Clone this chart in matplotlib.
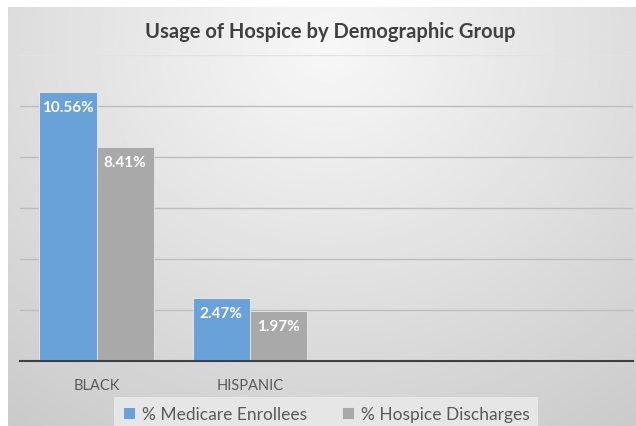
import matplotlib.pyplot as plt
import numpy as np

plt.rcParams["font.family"] = ["Lato", "DejaVu Sans"]

# data
categories = ["BLACK", "HISPANIC", "", ""]
medicare_enrollees = [10.56, 2.47, None, None]
hospice_discharges = [8.41, 1.97, None, None]
series_names = ["% Medicare Enrollees", "% Hospice Discharges"]

blue = "#69a2d8"
gray = "#a9a9a9"

fig = plt.figure(figsize=(6.36, 4.27), dpi=100)
fig.patch.set_facecolor("white")

# radial gradient background for the chart area
bg = fig.add_axes([8 / 636, 0, 1 - 8 / 636, 1 - 8 / 427])
gx, gy = np.meshgrid(np.linspace(0, 628, 300), np.linspace(0, 419, 200))
dist = np.sqrt(((gx - 320) / 1.15) ** 2 + (gy - 40) ** 2) / 420
shade = np.clip(0.97 - 0.16 * dist, 0.79, 0.975)
bg.imshow(shade, cmap="gray", vmin=0, vmax=1, aspect="auto",
          extent=[0, 1, 0, 1], origin="upper")
bg.axis("off")

ax = fig.add_axes([20 / 636, 65 / 427, 613 / 636, 306 / 427])
ax.set_facecolor("none")

x = np.arange(len(categories))
w = 0.373
vals1 = [v if v is not None else 0 for v in medicare_enrollees]
vals2 = [v if v is not None else 0 for v in hospice_discharges]
b1 = ax.bar(x - w / 2, vals1, w, color=blue, edgecolor="#e8eef5", linewidth=0.6,
            label=series_names[0], zorder=3)
b2 = ax.bar(x + w / 2, vals2, w, color=gray, edgecolor="#e8e8e8", linewidth=0.6,
            label=series_names[1], zorder=3)

for bars, vals in [(b1, medicare_enrollees), (b2, hospice_discharges)]:
    for rect, v in zip(bars, vals):
        if v is None:
            continue
        ax.annotate(f"{v:.2f}%", (rect.get_x() + rect.get_width() / 2, v),
                    xytext=(0, -15), textcoords="offset pixels",
                    ha="center", va="center", color="white", fontsize=11,
                    fontweight="bold", zorder=4)

ax.set_xlim(-0.5, len(categories) - 0.5)
ax.set_ylim(0, 12)
ax.set_yticks([2, 4, 6, 8, 10])
ax.yaxis.grid(True, color="#bdbdbd", linewidth=1.0, zorder=0)
ax.axhline(12, color="#e2e2e2", linewidth=1.0, zorder=0)
ax.set_yticklabels([])
ax.tick_params(axis="y", length=0)
ax.set_xticks(x)
ax.set_xticklabels(categories, color="#595959", fontsize=10.5)
ax.tick_params(axis="x", length=0, pad=12)
for s in ["top", "right", "left"]:
    ax.spines[s].set_visible(False)
ax.spines["bottom"].set_color("#404040")
ax.spines["bottom"].set_linewidth(1.5)
ax.spines["bottom"].set_zorder(5)

fig.text(330 / 636, 1 - 32 / 427, "Usage of Hospice by Demographic Group",
         ha="center", va="center", fontsize=14.5, fontweight="bold", color="#404040")

leg = ax.legend(loc="center", bbox_to_anchor=(326 / 636, 12 / 427),
                bbox_transform=fig.transFigure, ncol=2, frameon=True,
                fontsize=12.5, handlelength=0.7, handleheight=0.7,
                handletextpad=0.4, columnspacing=2.0, borderpad=0.5,
                fancybox=False)
leg.get_frame().set_facecolor("#e6e6e6")
leg.get_frame().set_edgecolor("none")
leg.get_frame().set_alpha(1)
for t in leg.get_texts():
    t.set_color("#595959")

fig.savefig("out.png", dpi=100)
